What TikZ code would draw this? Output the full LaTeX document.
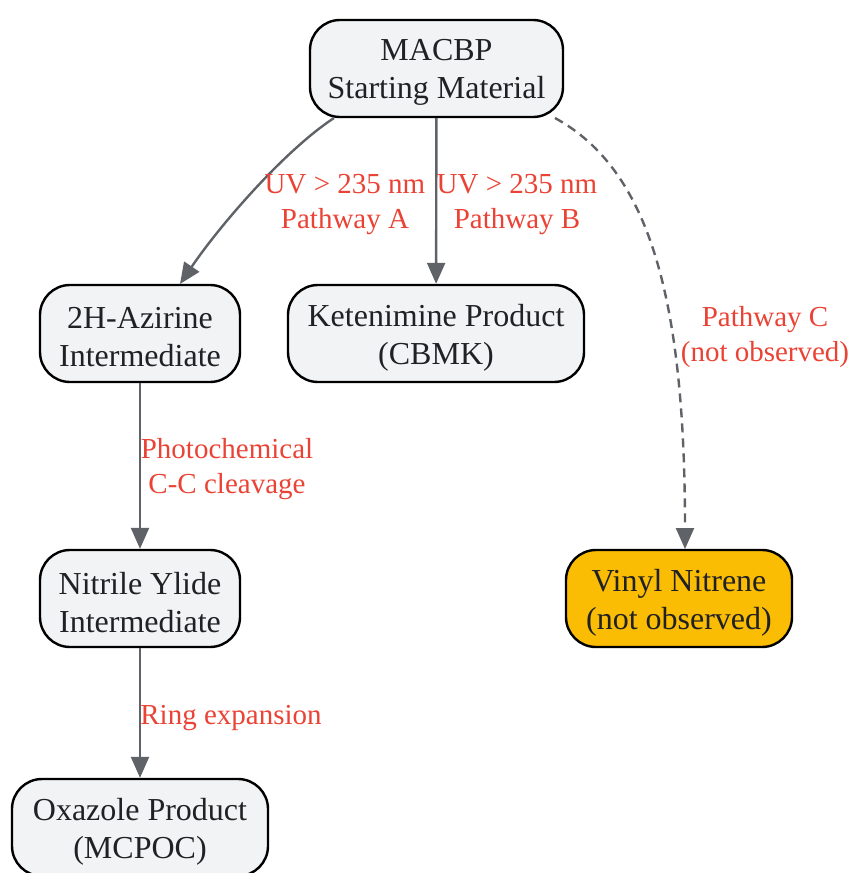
\documentclass[tikz,border=0pt]{standalone}
\usepackage{fontspec}
\setmainfont{Liberation Serif}
\usetikzlibrary{arrows.meta}
\definecolor{boxfill}{HTML}{F1F3F4}
\definecolor{boxtext}{HTML}{202124}
\definecolor{edgegray}{HTML}{5F6368}
\definecolor{labelred}{HTML}{EA4335}
\definecolor{warnfill}{HTML}{FBBC04}

\begin{document}
\begin{tikzpicture}[x=1pt,y=-1pt,
  state/.style={draw=black, line width=2.4pt, fill=boxfill,
    rounded corners=30pt, minimum height=97pt},
  warn/.style={state, fill=warnfill},
  boxtext/.style={text=boxtext, align=center, yshift=-4pt,
    font=\fontsize{32}{38}\selectfont},
  flow/.style={draw=edgegray, line width=2.4pt,
    -{Triangle[length=21pt,width=18pt]}},
  elabel/.style={text=labelred, align=center, inner sep=0pt,
    font=\fontsize{29}{35}\selectfont}]
  \useasboundingbox (0,0) rectangle (852,873);
  \node[state, minimum width=253pt,
    label={[boxtext]center:MACBP\\Starting Material}] (macbp) at (436.5,68.5) {};
  \node[state, minimum width=200pt,
    label={[boxtext]center:2H-Azirine\\Intermediate}] (azirine) at (140,333.5) {};
  \node[state, minimum width=296pt,
    label={[boxtext]center:Ketenimine Product\\(CBMK)}] (cbmk) at (436,333.5) {};
  \node[state, minimum width=200pt,
    label={[boxtext]center:Nitrile Ylide\\Intermediate}] (ylide) at (140,598.5) {};
  \node[warn, minimum width=226pt,
    label={[boxtext]center:Vinyl Nitrene\\(not observed)}] (nitrene) at (679,598.5) {};
  \node[state, minimum width=256pt,
    label={[boxtext]center:Oxazole Product\\(MCPOC)}] (mcpoc) at (140,827.5) {};

  \coordinate (a0) at (334,118);
  \coordinate (a1) at (180,284);
  \coordinate (c0) at (555,118);
  \coordinate (c1) at (685,549);

  \draw[flow] (a0) .. controls (285,150) and (220,225) .. (a1);
  \draw[flow] (macbp) -- (cbmk);
  \draw[flow, dash pattern=on 9pt off 6pt] (c0) .. controls (650,170) and (685,300) .. (c1);
  \draw[flow] (azirine) -- (ylide);
  \draw[flow] (ylide) -- (mcpoc);

  \node[elabel] (la) at (345,205) {UV > 235 nm\\Pathway A};
  \node[elabel] (lb) at (517,205) {UV > 235 nm\\Pathway B};
  \node[elabel] (lc) at (765,337) {Pathway C\\(not observed)};
  \node[elabel] (ld) at (227,469.5) {Photochemical\\C-C cleavage};
  \node[elabel] (le) at (231,718) {Ring expansion};
\end{tikzpicture}
\end{document}
